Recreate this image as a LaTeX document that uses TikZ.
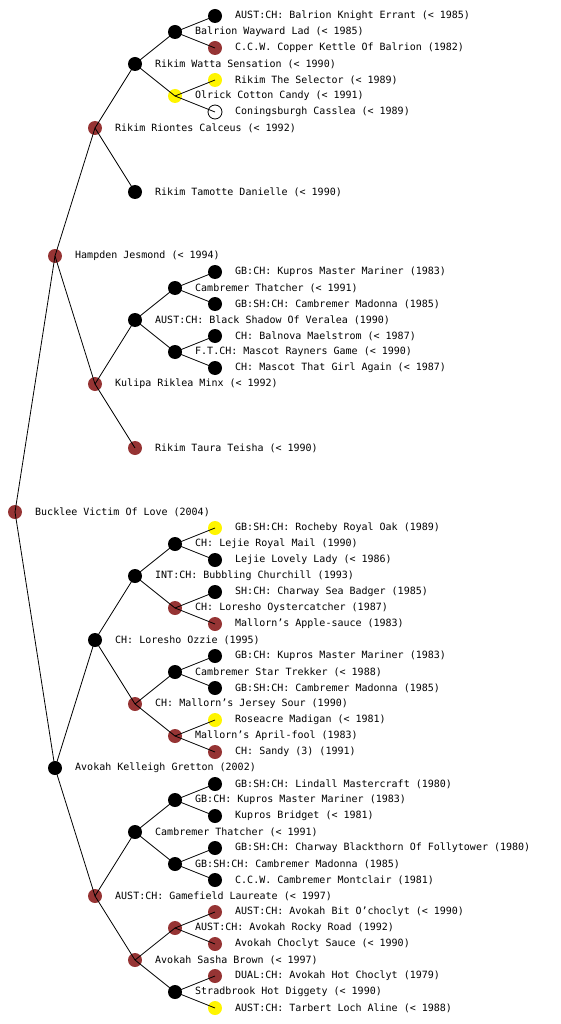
\documentclass[tikz,border=0pt]{standalone}
\usepackage{fontspec}
\setmonofont{DejaVu Sans Mono}
\usepackage{tikz}
\usetikzlibrary{positioning}
\definecolor{dogred}{RGB}{150,52,52}
\definecolor{dogyel}{RGB}{255,245,0}
\tikzset{
	dog/.style={circle, minimum size=14pt, inner sep=0pt},
	dogbrown/.style={dog, fill=dogred},
	dogblack/.style={dog, fill=black},
	dogyellow/.style={dog, fill=dogyel},
	dogwhite/.style={dog, fill=white, draw=black, line width=0.8pt},
	dogname/.style={anchor=west, inner sep=0pt, font=\ttfamily\fontsize{10}{10}\selectfont},
	edge/.style={line width=0.8pt}
}
\newcommand{\dog}[5]{%
	\node[#4] (#1) at (#2,#3) {};
	\node[dogname] (#1t) at ({#2+20},#3) {#5};}

\begin{document}
\begin{tikzpicture}[x=1pt, y=-1pt]
					\useasboundingbox (0,0) rectangle (560,1024);
					% generations 0 to 3
					\dog{r}{15}{512}{dogbrown}{Bucklee Victim Of Love (2004)}
					\dog{s}{55}{256}{dogbrown}{Hampden Jesmond (< 1994)}
					\dog{d}{55}{768}{dogblack}{Avokah Kelleigh Gretton (2002)}
					\dog{ss}{95}{128}{dogbrown}{Rikim Riontes Calceus (< 1992)}
					\dog{sd}{95}{384}{dogbrown}{Kulipa Riklea Minx (< 1992)}
					\dog{ds}{95}{640}{dogblack}{CH: Loresho Ozzie (1995)}
					\dog{dd}{95}{896}{dogbrown}{AUST:CH: Gamefield Laureate (< 1997)}
					\dog{sss}{135}{64}{dogblack}{Rikim Watta Sensation (< 1990)}
					\dog{ssd}{135}{192}{dogblack}{Rikim Tamotte Danielle (< 1990)}
					\dog{sds}{135}{320}{dogblack}{AUST:CH: Black Shadow Of Veralea (1990)}
					\dog{sdd}{135}{448}{dogbrown}{Rikim Taura Teisha (< 1990)}
					\dog{dss}{135}{576}{dogblack}{INT:CH: Bubbling Churchill (1993)}
					\dog{dsd}{135}{704}{dogbrown}{CH: Mallorn’s Jersey Sour (1990)}
					\dog{dds}{135}{832}{dogblack}{Cambremer Thatcher (< 1991)}
					\dog{ddd}{135}{960}{dogbrown}{Avokah Sasha Brown (< 1997)}
					% generation 4
					\dog{ssss}{175}{32}{dogblack}{Balrion Wayward Lad (< 1985)}
					\dog{sssd}{175}{96}{dogyellow}{Olrick Cotton Candy (< 1991)}
					\dog{sdss}{175}{288}{dogblack}{Cambremer Thatcher (< 1991)}
					\dog{sdsd}{175}{352}{dogblack}{F.T.CH: Mascot Rayners Game (< 1990)}
					\dog{dsss}{175}{544}{dogblack}{CH: Lejie Royal Mail (1990)}
					\dog{dssd}{175}{608}{dogbrown}{CH: Loresho Oystercatcher (1987)}
					\dog{dsds}{175}{672}{dogblack}{Cambremer Star Trekker (< 1988)}
					\dog{dsdd}{175}{736}{dogbrown}{Mallorn’s April-fool (1983)}
					\dog{ddss}{175}{800}{dogblack}{GB:CH: Kupros Master Mariner (1983)}
					\dog{ddsd}{175}{864}{dogblack}{GB:SH:CH: Cambremer Madonna (1985)}
					\dog{ddds}{175}{928}{dogbrown}{AUST:CH: Avokah Rocky Road (1992)}
					\dog{dddd}{175}{992}{dogblack}{Stradbrook Hot Diggety (< 1990)}
					% generation 5
					\dog{sssss}{215}{16}{dogblack}{AUST:CH: Balrion Knight Errant (< 1985)}
					\dog{ssssd}{215}{48}{dogbrown}{C.C.W. Copper Kettle Of Balrion (1982)}
					\dog{sssds}{215}{80}{dogyellow}{Rikim The Selector (< 1989)}
					\dog{sssdd}{215}{112}{dogwhite}{Coningsburgh Casslea (< 1989)}
					\dog{sdsss}{215}{272}{dogblack}{GB:CH: Kupros Master Mariner (1983)}
					\dog{sdssd}{215}{304}{dogblack}{GB:SH:CH: Cambremer Madonna (1985)}
					\dog{sdsds}{215}{336}{dogblack}{CH: Balnova Maelstrom (< 1987)}
					\dog{sdsdd}{215}{368}{dogblack}{CH: Mascot That Girl Again (< 1987)}
					\dog{dssss}{215}{528}{dogyellow}{GB:SH:CH: Rocheby Royal Oak (1989)}
					\dog{dsssd}{215}{560}{dogblack}{Lejie Lovely Lady (< 1986)}
					\dog{dssds}{215}{592}{dogblack}{SH:CH: Charway Sea Badger (1985)}
					\dog{dssdd}{215}{624}{dogbrown}{Mallorn’s Apple-sauce (1983)}
					\dog{dsdss}{215}{656}{dogblack}{GB:CH: Kupros Master Mariner (1983)}
					\dog{dsdsd}{215}{688}{dogblack}{GB:SH:CH: Cambremer Madonna (1985)}
					\dog{dsdds}{215}{720}{dogyellow}{Roseacre Madigan (< 1981)}
					\dog{dsddd}{215}{752}{dogbrown}{CH: Sandy (3) (1991)}
					\dog{ddsss}{215}{784}{dogblack}{GB:SH:CH: Lindall Mastercraft (1980)}
					\dog{ddssd}{215}{816}{dogblack}{Kupros Bridget (< 1981)}
					\dog{ddsds}{215}{848}{dogblack}{GB:SH:CH: Charway Blackthorn Of Follytower (1980)}
					\dog{ddsdd}{215}{880}{dogblack}{C.C.W. Cambremer Montclair (1981)}
					\dog{dddss}{215}{912}{dogbrown}{AUST:CH: Avokah Bit O’choclyt (< 1990)}
					\dog{dddsd}{215}{944}{dogbrown}{Avokah Choclyt Sauce (< 1990)}
					\dog{dddds}{215}{976}{dogbrown}{DUAL:CH: Avokah Hot Choclyt (1979)}
					\dog{ddddd}{215}{1008}{dogyellow}{AUST:CH: Tarbert Loch Aline (< 1988)}
					% parent to child lines
					\foreach \a/\b in {r/s, r/d, s/ss, s/sd, d/ds, d/dd,
						ss/sss, ss/ssd, sd/sds, sd/sdd, ds/dss, ds/dsd, dd/dds, dd/ddd,
						sss/ssss, sss/sssd, sds/sdss, sds/sdsd, dss/dsss, dss/dssd,
						dsd/dsds, dsd/dsdd, dds/ddss, dds/ddsd, ddd/ddds, ddd/dddd,
						ssss/sssss, ssss/ssssd, sssd/sssds, sssd/sssdd,
						sdss/sdsss, sdss/sdssd, sdsd/sdsds, sdsd/sdsdd,
						dsss/dssss, dsss/dsssd, dssd/dssds, dssd/dssdd,
						dsds/dsdss, dsds/dsdsd, dsdd/dsdds, dsdd/dsddd,
						ddss/ddsss, ddss/ddssd, ddsd/ddsds, ddsd/ddsdd,
						ddds/dddss, ddds/dddsd, dddd/dddds, dddd/ddddd}
						\draw[edge] (\a.center) -- (\b.center);
				\end{tikzpicture}
\end{document}
